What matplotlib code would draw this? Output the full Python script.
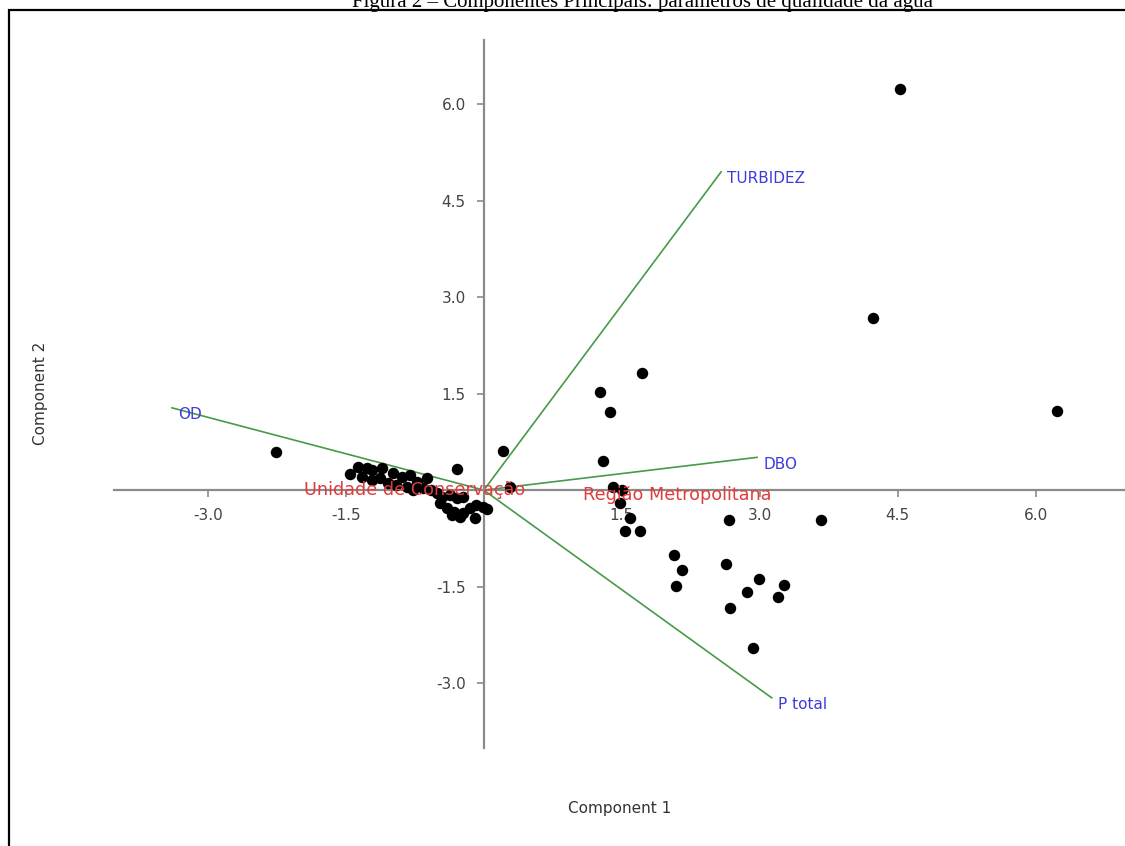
import matplotlib.pyplot as plt
from matplotlib.patches import Rectangle

# scores (component 1, component 2)
pc1 = [4.52, 4.23, 6.23, -2.26, 1.72, 1.26, 1.37, 1.30, 0.21, -0.29, 0.29,
       1.40, 1.50, 1.48, 1.59, 1.54, 1.70, 2.67, 3.67, 2.07, 2.15, 2.09,
       2.63, 2.99, 2.86, 3.26, 3.20, 2.68, 2.93,
       -1.46, -1.37, -1.27, -1.21, -1.11, -1.32, -1.22, -1.13, -0.99, -0.89,
       -0.80, -0.73, -0.62, -1.04, -0.95, -0.84, -0.77, -0.66, -0.57, -0.51,
       -0.45, -0.37, -0.29, -0.23, -0.48, -0.40, -0.32, -0.23, -0.15, -0.08,
       -0.01, -0.10, -0.26, -0.35, 0.04]
pc2 = [6.24, 2.67, 1.23, 0.59, 1.82, 1.52, 1.21, 0.45, 0.61, 0.33, 0.05,
       0.05, 0.00, -0.20, -0.44, -0.64, -0.64, -0.47, -0.47, -1.01, -1.24, -1.49,
       -1.15, -1.38, -1.59, -1.48, -1.66, -1.84, -2.46,
       0.25, 0.36, 0.34, 0.31, 0.34, 0.20, 0.16, 0.19, 0.26, 0.20,
       0.23, 0.12, 0.19, 0.11, 0.08, 0.05, 0.00, 0.03, 0.00, -0.05,
       -0.11, -0.08, -0.12, -0.11, -0.20, -0.28, -0.34, -0.36, -0.28, -0.23,
       -0.26, -0.44, -0.42, -0.39, -0.30]

# loadings (biplot vectors)
var_names = ['TURBIDEZ', 'DBO', 'P total', 'OD']
load1 = [2.58, 2.97, 3.13, -3.39]
load2 = [4.95, 0.51, -3.23, 1.28]

# group labels
groups = ['Unidade de Conservação', 'Região Metropolitana']
group_x = [-0.75, 2.10]
group_y = [0.0, -0.08]

ticks = [-3.0, -1.5, 1.5, 3.0, 4.5, 6.0]

fig = plt.figure(figsize=(11.25, 8.46), dpi=100)
ax = fig.add_axes([114 / 1125, 1 - 748 / 846, 1011 / 1125, 708 / 846])

for x, y in zip(load1, load2):
    ax.plot([0, x], [0, y], color='#479a47', lw=1.2, zorder=2)
for name, x, y in zip(var_names, load1, load2):
    ax.annotate(name, (x, y), xytext=(6, -7), textcoords='offset pixels',
                ha='left', va='center', color='#3c3cdc', fontsize=11, zorder=5)

ax.scatter(pc1, pc2, s=68, color='black', zorder=3, linewidths=0)

for name, x, y in zip(groups, group_x, group_y):
    ax.text(x, y, name, ha='center', va='center', color='#e03c3c',
            fontsize=12.7, zorder=6)

ax.set_xlim(-4.02, 6.97)
ax.set_ylim(-4.01, 7.0)
for s in ['top', 'right']:
    ax.spines[s].set_visible(False)
for s in ['left', 'bottom']:
    ax.spines[s].set_position('zero')
    ax.spines[s].set_color('#8a8a8a')
    ax.spines[s].set_linewidth(1.6)
ax.set_xticks(ticks)
ax.set_yticks(ticks)
ax.set_xticklabels(['%.1f' % t for t in ticks])
ax.set_yticklabels(['%.1f' % t for t in ticks])
ax.tick_params(length=5, width=1.2, color='#8a8a8a', labelcolor='#444444',
               labelsize=11, pad=8)
ax.patch.set_visible(False)

fig.text(620 / 1125, 1 - 808 / 846, 'Component 1', ha='center', va='center',
         fontsize=11, color='#333333')
fig.text(40 / 1125, 1 - 393 / 846, 'Component 2', ha='center', va='center',
         fontsize=11, color='#333333', rotation=90)

fig.text(642 / 1125, 1 - 7 / 846, 'Figura 2 – Componentes Principais: parâmetros de qualidade da água',
         ha='center', va='baseline', fontsize=15, family='Liberation Serif')

fig.patches.append(Rectangle((9 / 1125, -0.1), 1.2, 1 - 10 / 846 + 0.1,
                             transform=fig.transFigure, fill=False,
                             edgecolor='black', lw=1.6))

fig.savefig('out.png', dpi=100)
